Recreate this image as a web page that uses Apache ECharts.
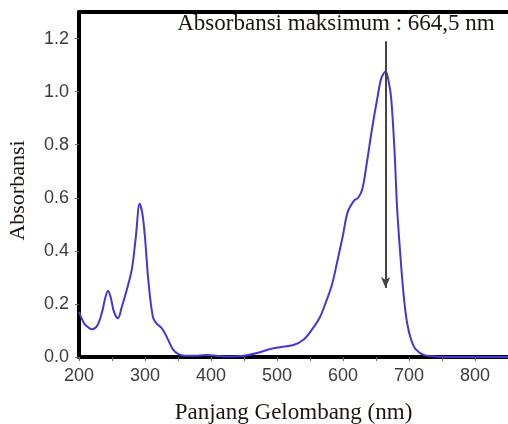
<!DOCTYPE html>
<html>
<head>
<meta charset="utf-8">
<script src="https://cdn.jsdelivr.net/npm/echarts@6/dist/echarts.min.js"></script>
<style>
  html, body { margin: 0; padding: 0; background: #fff; }
  #main { width: 508px; height: 424px; }
</style>
</head>
<body>
<div id="main"></div>
<script>
// wavelength (nm) and absorbance
var wavelength = [200, 205, 210, 220, 228, 235, 240, 244, 248, 253, 259, 265, 272, 280, 286, 292, 296, 300, 305, 312,
    318, 325, 330, 336, 342, 350, 360, 380, 395, 410, 430, 450, 470, 490, 505, 525, 540, 552, 565, 574,
    583, 591, 600, 607, 617, 623, 629, 636, 644, 652, 658, 664.5, 669, 673, 678, 682, 687, 692, 697, 703,
    710, 723, 740, 760, 800, 850]
var absorbance = [0.17, 0.14, 0.12, 0.105, 0.12, 0.17, 0.225, 0.25, 0.225, 0.17, 0.146, 0.19, 0.25, 0.33, 0.45, 0.577, 0.54, 0.45, 0.29, 0.15,
    0.125, 0.11, 0.09, 0.06, 0.03, 0.012, 0.005, 0.005, 0.008, 0.004, 0.002, 0.005, 0.015, 0.03, 0.037, 0.045, 0.065, 0.1, 0.15, 0.206,
    0.27, 0.356, 0.46, 0.545, 0.59, 0.6, 0.63, 0.73, 0.86, 0.975, 1.05, 1.076, 1.04, 0.975, 0.78, 0.56, 0.38, 0.23, 0.13, 0.067,
    0.03, 0.007, 0.002, 0, 0, 0]

var xTicks = [200, 300, 400, 500, 600, 700, 800]
var xMinorTicks = [200, 250, 300, 350, 400, 450, 500, 550, 600, 650, 700, 750, 800]
var yTicks = [0, 0.2, 0.4, 0.6, 0.8, 1.0, 1.2]

// arrow marking the maximum
var peakX = 664.5
var arrowTop = 1.19
var arrowBottom = 0.26
var peakLabel = 'Absorbansi maksimum : 664,5 nm'

var chart = echarts.init(document.getElementById('main'))

var seriesData = wavelength.map(function (w, i) {
    return [w, absorbance[i]]
})

var labelFont = {
    fontFamily: 'Liberation Sans, Arial, sans-serif',
    fontSize: 18,
    color: '#3c3c3c'
}

var option = {
    animation: false,
    grid: {
        left: 79,
        right: 0,
        top: 12,
        bottom: 67,
        outerBoundsMode: 'none'
    },
    xAxis: [
        {
            type: 'value',
            min: 200,
            max: 850,
            name: 'Panjang Gelombang (nm)',
            nameLocation: 'middle',
            nameGap: 44,
            nameTextStyle: {
                fontFamily: 'Liberation Serif, Times New Roman, serif',
                fontSize: 23,
                color: '#1e1410'
            },
            axisLine: { show: true, onZero: false, lineStyle: { color: '#000', width: 4 } },
            axisTick: { show: true, customValues: xMinorTicks, length: 4, lineStyle: { color: '#666' } },
            axisLabel: Object.assign({ customValues: xTicks, margin: 10 }, labelFont),
            splitLine: { show: false }
        },
        {
            type: 'value',
            position: 'top',
            min: 200,
            max: 850,
            axisLine: { show: true, onZero: false, lineStyle: { color: '#000', width: 4 } },
            axisTick: { show: false },
            axisLabel: { show: false },
            splitLine: { show: false }
        }
    ],
    yAxis: {
        type: 'value',
        min: 0,
        max: 1.3,
        name: 'Absorbansi',
        nameLocation: 'middle',
        nameGap: 50,
        nameTextStyle: {
            fontFamily: 'Liberation Serif, Times New Roman, serif',
            fontSize: 22,
            color: '#1e1410',
            padding: [0, 12, 0, 0]
        },
        axisLine: { show: true, onZero: false, lineStyle: { color: '#000', width: 4 } },
        axisTick: { show: true, customValues: yTicks, length: 4, lineStyle: { color: '#666' } },
        axisLabel: Object.assign({
            customValues: yTicks,
            margin: 10,
            formatter: function (v) { return v.toFixed(1) }
        }, labelFont),
        splitLine: { show: false }
    },
    graphic: [
        {
            type: 'text',
            x: 336,
            y: 12,
            style: {
                text: peakLabel,
                align: 'center',
                verticalAlign: 'top',
                fontFamily: 'Liberation Serif, Times New Roman, serif',
                fontSize: 23,
                fill: '#1e1410'
            }
        }
    ],
    series: [
        {
            type: 'line',
            data: seriesData,
            smooth: 0.35,
            showSymbol: false,
            lineStyle: { color: '#4636d6', width: 2 },
            z: 3,
            markLine: {
                silent: true,
                symbol: ['none', 'arrow'],
                symbolSize: [7, 11],
                label: { show: false },
                lineStyle: { color: '#444', width: 2, type: 'solid' },
                data: [
                    [
                        { coord: [peakX, arrowTop] },
                        { coord: [peakX, arrowBottom] }
                    ]
                ]
            }
        }
    ]
}

chart.setOption(option)
</script>
</body>
</html>
